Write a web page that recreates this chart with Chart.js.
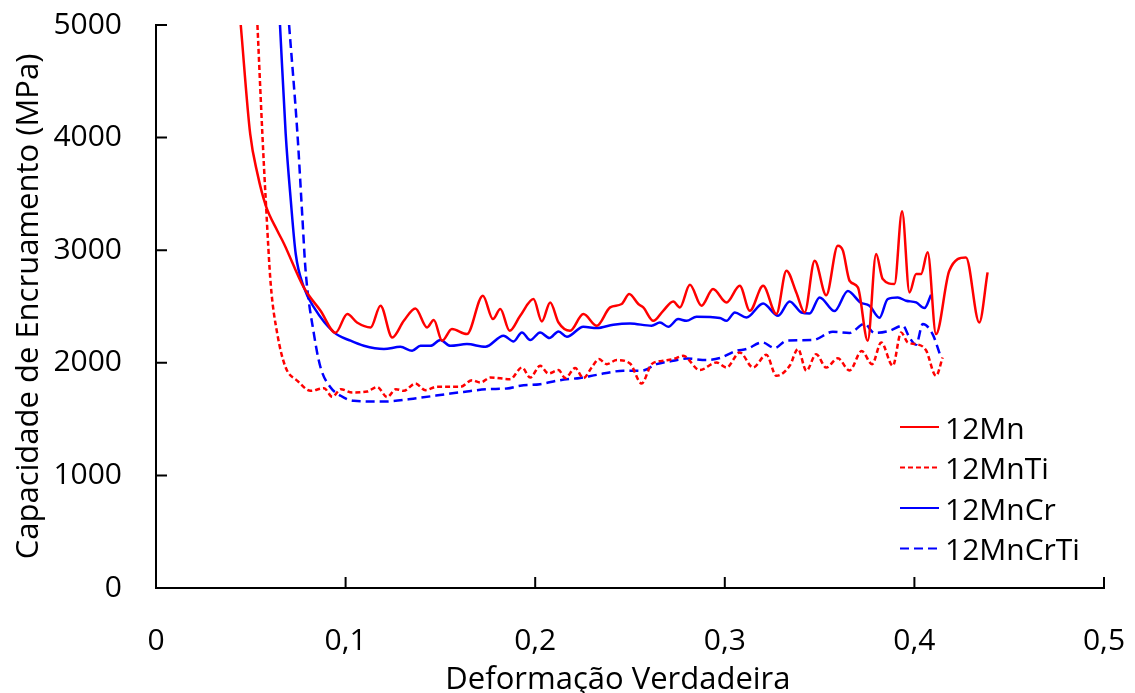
<!DOCTYPE html>
<html>
<head>
<meta charset="utf-8">
<script src="https://cdn.jsdelivr.net/npm/chart.js@4.4.1/dist/chart.umd.min.js"></script>
<style>
  html, body { margin: 0; padding: 0; background: #fff; }
  #wrap { width: 1135px; height: 693px; }
</style>
</head>
<body>
<div id="wrap"><canvas id="chart" width="1135" height="693"></canvas></div>
<script>
// values
const seriesNames = ['12Mn', '12MnTi', '12MnCr', '12MnCrTi'];

const mnX = [0.0447, 0.0497, 0.0535, 0.0579, 0.0640, 0.0675, 0.0780, 0.0868, 0.0947, 0.1009, 0.1060, 0.1132, 0.1184, 0.1246,
  0.1307, 0.1368, 0.1430, 0.1465, 0.1509, 0.1561, 0.1640, 0.1724, 0.1777, 0.1816, 0.1865, 0.1921, 0.1991, 0.2035,
  0.2079, 0.2123, 0.2184, 0.2254, 0.2325, 0.2395, 0.2456, 0.2496, 0.2544, 0.2570, 0.2623, 0.2675, 0.2728, 0.2763,
  0.2816, 0.2877, 0.2938, 0.3009, 0.3079, 0.3132, 0.3202, 0.3272, 0.3325, 0.3377, 0.3421, 0.3474, 0.3535, 0.3596,
  0.3623, 0.3658, 0.3702, 0.3754, 0.3798, 0.3833, 0.3895, 0.3935, 0.3974, 0.4009, 0.4035, 0.4070, 0.4114, 0.4184,
  0.4272, 0.4342, 0.4386];
const mnY = [5000, 4030, 3680, 3396, 3173, 3058, 2667, 2462, 2267, 2433, 2358, 2314, 2507, 2225,
  2373, 2483, 2314, 2380, 2196, 2300, 2255, 2596, 2388, 2477, 2284, 2418, 2566, 2367,
  2536, 2358, 2284, 2433, 2329, 2492, 2522, 2611, 2522, 2492, 2373, 2462, 2545, 2492,
  2693, 2507, 2655, 2536, 2684, 2462, 2684, 2433, 2818, 2625, 2447, 2907, 2600, 3040,
  2996, 2729, 2669, 2196, 2966, 2744, 2700, 3345, 2625, 2788, 2788, 2981, 2255, 2818,
  2936, 2358, 2803];

const mnTiX = [0.0535, 0.0561, 0.0579, 0.0605, 0.0640, 0.0684, 0.0746, 0.0816, 0.0886, 0.0930, 0.0975, 0.1035, 0.1114, 0.1167,
  0.1219, 0.1265, 0.1307, 0.1368, 0.1421, 0.1482, 0.1605, 0.1667, 0.1711, 0.1763, 0.1868, 0.1930, 0.1974, 0.2026,
  0.2070, 0.2123, 0.2158, 0.2211, 0.2254, 0.2298, 0.2336, 0.2377, 0.2430, 0.2500, 0.2561, 0.2614, 0.2675, 0.2728,
  0.2781, 0.2868, 0.2956, 0.3009, 0.3079, 0.3149, 0.3219, 0.3272, 0.3342, 0.3386, 0.3430, 0.3482, 0.3535, 0.3596,
  0.3658, 0.3722, 0.3777, 0.3825, 0.3886, 0.3930, 0.3965, 0.4009, 0.4061, 0.4114, 0.4149];
const mnTiY = [5000, 4033, 3440, 2700, 2255, 1958, 1840, 1751, 1775, 1698, 1766, 1736, 1745, 1785,
  1695, 1766, 1751, 1816, 1757, 1787, 1787, 1846, 1825, 1869, 1855, 1958, 1869, 1973,
  1905, 1935, 1864, 1953, 1864, 1958, 2033, 1988, 2024, 1994, 1816, 1988, 2018, 2033,
  2062, 1935, 2003, 1958, 2092, 1958, 2071, 1884, 1973, 2122, 1929, 2077, 1958, 2040,
  1932, 2104, 1988, 2181, 1973, 2270, 2181, 2166, 2112, 1884, 2047];

const mnCrX = [0.0654, 0.0684, 0.0711, 0.0737, 0.0780, 0.0833, 0.0939, 0.1026, 0.1096, 0.1202, 0.1289, 0.1351, 0.1395, 0.1447,
  0.1500, 0.1553, 0.1640, 0.1737, 0.1833, 0.1886, 0.1930, 0.1974, 0.2026, 0.2075, 0.2123, 0.2167, 0.2254, 0.2325,
  0.2412, 0.2500, 0.2614, 0.2658, 0.2702, 0.2754, 0.2798, 0.2851, 0.2974, 0.3009, 0.3053, 0.3114, 0.3202, 0.3281,
  0.3342, 0.3404, 0.3447, 0.3500, 0.3579, 0.3649, 0.3715, 0.3763, 0.3816, 0.3859, 0.3912, 0.3956, 0.4009, 0.4053,
  0.4088];
const mnCrY = [5000, 4033, 3440, 2966, 2669, 2492, 2270, 2196, 2151, 2122, 2142, 2107, 2151, 2151,
  2202, 2151, 2166, 2142, 2240, 2190, 2270, 2202, 2270, 2220, 2279, 2231, 2320, 2308,
  2338, 2349, 2329, 2358, 2320, 2388, 2373, 2409, 2397, 2373, 2447, 2403, 2527, 2418,
  2545, 2447, 2438, 2581, 2459, 2637, 2536, 2507, 2400, 2566, 2580, 2551, 2536, 2486,
  2604];

const mnCrTiX = [0.0702, 0.0746, 0.0772, 0.0789, 0.0833, 0.0868, 0.0921, 0.0974, 0.1044, 0.1202, 0.1377, 0.1553, 0.1640, 0.1746,
  0.1851, 0.1921, 0.2026, 0.2132, 0.2237, 0.2325, 0.2465, 0.2561, 0.2640, 0.2728, 0.2798, 0.2903, 0.2974, 0.3061,
  0.3114, 0.3198, 0.3263, 0.3325, 0.3465, 0.3570, 0.3658, 0.3737, 0.3789, 0.3868, 0.3939, 0.3974, 0.4009, 0.4044,
  0.4096, 0.4140];
const mnCrTiY = [5000, 4033, 3292, 2818, 2255, 1958, 1781, 1707, 1662, 1656, 1686, 1727, 1745, 1766,
  1772, 1796, 1810, 1846, 1866, 1893, 1929, 1929, 1988, 2018, 2038, 2024, 2042, 2107,
  2122, 2181, 2131, 2196, 2202, 2275, 2265, 2346, 2265, 2284, 2329, 2225, 2160, 2344,
  2255, 2047];

const xTicks = [0, 0.1, 0.2, 0.3, 0.4, 0.5];
const xTickLabels = ['0', '0,1', '0,2', '0,3', '0,4', '0,5'];
const yTicks = [0, 1000, 2000, 3000, 4000, 5000];
const yTickLabels = ['0', '1000', '2000', '3000', '4000', '5000'];

const FONT = '"Open Sans", "DejaVu Sans", sans-serif';

function toPoints(xs, ys) {
  return xs.map((x, i) => ({ x: x, y: ys[i] }));
}

function makeSet(label, xs, ys, color, dash) {
  return {
    label: label,
    data: toPoints(xs, ys),
    borderColor: color,
    backgroundColor: color,
    borderWidth: 2.5,
    borderDash: dash,
    pointRadius: 0,
    cubicInterpolationMode: 'monotone',
    fill: false
  };
}

// tick marks pointing into the plot, like the original
const innerTicks = {
  id: 'innerTicks',
  afterDraw(chart) {
    const { ctx, chartArea, scales: { x, y } } = chart;
    ctx.save();
    ctx.strokeStyle = '#000';
    ctx.lineWidth = 2;
    ctx.beginPath();
    x.ticks.forEach((t) => {
      const px = x.getPixelForValue(t.value);
      ctx.moveTo(px, chartArea.bottom);
      ctx.lineTo(px, chartArea.bottom - 11);
    });
    y.ticks.forEach((t) => {
      const py = y.getPixelForValue(t.value);
      ctx.moveTo(chartArea.left, py);
      ctx.lineTo(chartArea.left + 11, py);
    });
    ctx.stroke();
    ctx.restore();
  }
};

// legend sits inside the plot, lower right
const insideLegend = {
  id: 'insideLegend',
  afterDraw(chart) {
    const { ctx } = chart;
    ctx.save();
    ctx.font = '30px ' + FONT;
    ctx.textBaseline = 'middle';
    ctx.textAlign = 'left';
    chart.data.datasets.forEach((ds, i) => {
      const yy = 427 + i * 40.5;
      ctx.strokeStyle = ds.borderColor;
      ctx.lineWidth = 2;
      ctx.setLineDash(ds.borderDash || []);
      ctx.beginPath();
      ctx.moveTo(900, yy);
      ctx.lineTo(939, yy);
      ctx.stroke();
      ctx.setLineDash([]);
      ctx.fillStyle = '#000';
      ctx.fillText(ds.label, 945, yy + 3);
    });
    ctx.restore();
  }
};

new Chart(document.getElementById('chart').getContext('2d'), {
  type: 'line',
  data: {
    datasets: [
      makeSet(seriesNames[0], mnX, mnY, '#ff0000', []),
      makeSet(seriesNames[1], mnTiX, mnTiY, '#ff0000', [5, 3]),
      makeSet(seriesNames[2], mnCrX, mnCrY, '#0000ff', []),
      makeSet(seriesNames[3], mnCrTiX, mnCrTiY, '#0000ff', [9, 5])
    ]
  },
  options: {
    responsive: false,
    animation: false,
    layout: { padding: 0 },
    plugins: {
      legend: { display: false },
      tooltip: { enabled: false }
    },
    scales: {
      x: {
        type: 'linear',
        min: 0,
        max: 0.5,
        afterBuildTicks: (scale) => { scale.ticks = xTicks.map((v) => ({ value: v })); },
        afterFit: (scale) => {
          scale.height = 105;
          scale.paddingLeft = 0;
          scale.paddingRight = 31;
        },
        grid: { display: false, drawTicks: false },
        border: { display: true, color: '#000', width: 2 },
        ticks: {
          color: '#000',
          padding: 35,
          maxRotation: 0,
          font: { family: FONT, size: 30 },
          callback: (value, index) => xTickLabels[index]
        },
        title: {
          display: true,
          text: 'Deformação Verdadeira\u00a0\u00a0\u00a0',
          color: '#000',
          padding: 0,
          font: { family: FONT, size: 31, lineHeight: 0.8 }
        }
      },
      y: {
        min: 0,
        max: 5000,
        afterBuildTicks: (scale) => { scale.ticks = yTicks.map((v) => ({ value: v })); },
        afterFit: (scale) => {
          scale.width = 156;
          scale.paddingTop = 25;
          scale.paddingBottom = 0;
        },
        grid: { display: false, drawTicks: false },
        border: { display: true, color: '#000', width: 2 },
        ticks: {
          color: '#000',
          padding: 34,
          font: { family: FONT, size: 30 },
          callback: (value, index) => yTickLabels[index]
        },
        title: {
          display: true,
          text: 'Capacidade de Encruamento (MPa)',
          color: '#000',
          padding: { top: 11, bottom: 0 },
          font: { family: FONT, size: 31 }
        }
      }
    }
  },
  plugins: [innerTicks, insideLegend]
});
</script>
</body>
</html>
